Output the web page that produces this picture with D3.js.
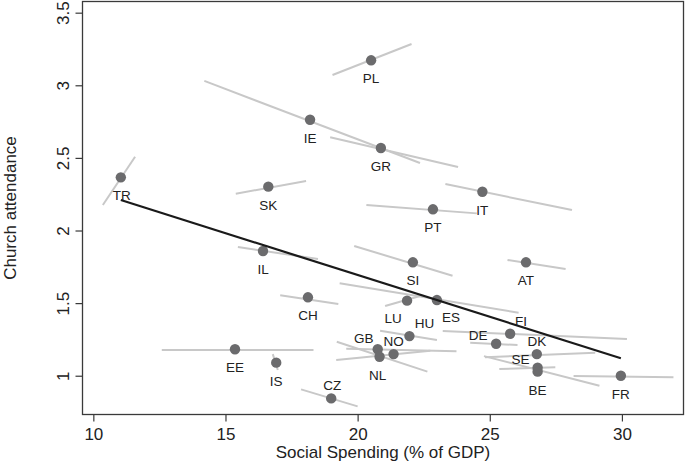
<!DOCTYPE html>
<html>
<head>
<meta charset="utf-8">
<script src="https://cdn.jsdelivr.net/npm/d3@7"></script>
<style>
  html, body { margin: 0; padding: 0; background: #fff; }
  svg { display: block; font-family: "Liberation Sans", Arial, sans-serif; }
</style>
</head>
<body>
<svg id="chart" width="685" height="464"></svg>
<script>
// ---- data ----
const countries = ["TR","PL","IE","GR","SK","IT","PT","IL","SI","AT","CH","LU","ES","HU","GB","NO","NL","EE","IS","CZ","FI","DE","DK","SE","BE","FR"];
const spending = [11.04,20.51,18.20,20.88,16.62,24.72,22.85,16.42,22.09,26.37,18.12,21.87,23.00,21.96,20.76,21.36,20.83,15.36,16.92,19.00,25.77,25.24,26.78,26.81,26.81,29.96];
const attendance = [2.366,3.172,2.763,2.568,2.302,2.267,2.146,1.859,1.781,1.781,1.540,1.517,1.521,1.273,1.182,1.149,1.131,1.182,1.090,0.844,1.289,1.220,1.149,1.055,1.028,1.000];
// within-country fitted segments (start / end)
const segX0 = [10.36,19.05,14.20,18.96,15.39,23.32,20.33,15.47,19.87,25.67,17.07,21.04,19.32,20.85,19.57,19.19,19.21,12.59,16.79,17.86,23.22,24.26,24.82,25.36,24.78,28.17];
const segY0 = [2.176,3.071,3.030,2.642,2.253,2.320,2.176,1.886,1.893,1.797,1.554,1.480,1.637,1.310,1.185,1.108,1.234,1.177,1.149,0.906,1.308,1.227,1.127,1.046,1.135,0.998];
const segX1 = [11.58,22.04,22.36,23.80,18.05,28.11,24.51,18.50,23.59,27.87,19.27,22.36,26.09,23.00,23.74,22.75,22.64,18.33,16.98,20.00,30.19,26.05,28.99,27.48,29.15,31.95];
const segY1 = [2.508,3.284,2.465,2.437,2.341,2.141,2.118,1.804,1.689,1.735,1.494,1.549,1.434,1.246,1.168,1.172,1.028,1.177,1.039,0.789,1.253,1.211,1.158,1.058,0.931,0.989];
// overall regression line
const regX = [11.04, 29.96];
const regY = [2.21, 1.12];
// axis ticks
const xTicks = [10, 15, 20, 25, 30];
const yTicks = [1, 1.5, 2, 2.5, 3, 3.5];
const xTitle = "Social Spending (% of GDP)";
const yTitle = "Church attendance";

// ---- layout (label offsets in px, relative to point) ----
const labelOffset = {
  LU: [-14, 17], ES: [14, 17], HU: [15, -13], GB: [-14, -11], NO: [0, -13],
  NL: [-2, 18], CZ: [1, -13], FI: [11, -13], DE: [-18, -9], DK: [0, -13],
  SE: [-17, -9], TR: [1, 18]
};
const defaultOffset = [0, 18];

const svg = d3.select("#chart");
const m = { left: 82.5, right: 683.5, top: 1.5, bottom: 414.5 };

const x = d3.scaleLinear().domain([9.59, 32.33]).range([m.left, m.right]);
const y = d3.scaleLinear().domain([0.733, 3.577]).range([m.bottom, m.top]);

// frame
svg.append("rect")
  .attr("x", m.left).attr("y", m.top)
  .attr("width", m.right - m.left).attr("height", m.bottom - m.top)
  .attr("fill", "none").attr("stroke", "#3a3a3a").attr("stroke-width", 1.3);

// x axis
const xAxis = svg.append("g")
  .attr("transform", `translate(0,${m.bottom})`)
  .call(d3.axisBottom(x).tickValues(xTicks).tickSize(7).tickPadding(6).tickFormat(d3.format("d")));
xAxis.select(".domain").remove();
xAxis.selectAll("line").attr("stroke", "#3a3a3a").attr("stroke-width", 1.2);
xAxis.selectAll("text").attr("font-size", 17).attr("fill", "#222")
  .attr("font-family", "Liberation Sans, Arial, sans-serif");

// y axis
const yAxis = svg.append("g")
  .attr("transform", `translate(${m.left},0)`)
  .call(d3.axisLeft(y).tickValues(yTicks).tickSize(7).tickFormat(d => String(d)));
yAxis.select(".domain").remove();
yAxis.selectAll("line").attr("stroke", "#3a3a3a").attr("stroke-width", 1.2);
yAxis.selectAll("text")
  .attr("font-size", 17).attr("fill", "#222")
  .attr("font-family", "Liberation Sans, Arial, sans-serif")
  .attr("x", null).attr("dy", null)
  .attr("text-anchor", "middle")
  .attr("transform", "translate(-14,0) rotate(-90)");

// titles
svg.append("text")
  .attr("x", (m.left + m.right) / 2).attr("y", 457.5)
  .attr("text-anchor", "middle").attr("font-size", 17).attr("fill", "#222")
  .text(xTitle);
svg.append("text")
  .attr("transform", `translate(16,${(m.top + m.bottom) / 2}) rotate(-90)`)
  .attr("text-anchor", "middle").attr("font-size", 17).attr("fill", "#222")
  .text(yTitle);

const idx = d3.range(countries.length);

// within-country segments
svg.append("g").selectAll("line").data(idx).join("line")
  .attr("x1", i => x(segX0[i])).attr("y1", i => y(segY0[i]))
  .attr("x2", i => x(segX1[i])).attr("y2", i => y(segY1[i]))
  .attr("stroke", "#c8c8c8").attr("stroke-width", 2);

// points
svg.append("g").selectAll("circle").data(idx).join("circle")
  .attr("cx", i => x(spending[i])).attr("cy", i => y(attendance[i]))
  .attr("r", 5.2).attr("fill", "#6b6b6d");

// labels
svg.append("g").selectAll("text").data(idx).join("text")
  .attr("x", i => x(spending[i]) + (labelOffset[countries[i]] || defaultOffset)[0])
  .attr("y", i => y(attendance[i]) + (labelOffset[countries[i]] || defaultOffset)[1])
  .attr("dy", "0.36em")
  .attr("text-anchor", "middle").attr("font-size", 13.5).attr("fill", "#222")
  .text(i => countries[i]);

// regression line
svg.append("line")
  .attr("x1", x(regX[0])).attr("y1", y(regY[0]))
  .attr("x2", x(regX[1])).attr("y2", y(regY[1]))
  .attr("stroke", "#1a1a1a").attr("stroke-width", 2.2);
</script>
</body>
</html>
